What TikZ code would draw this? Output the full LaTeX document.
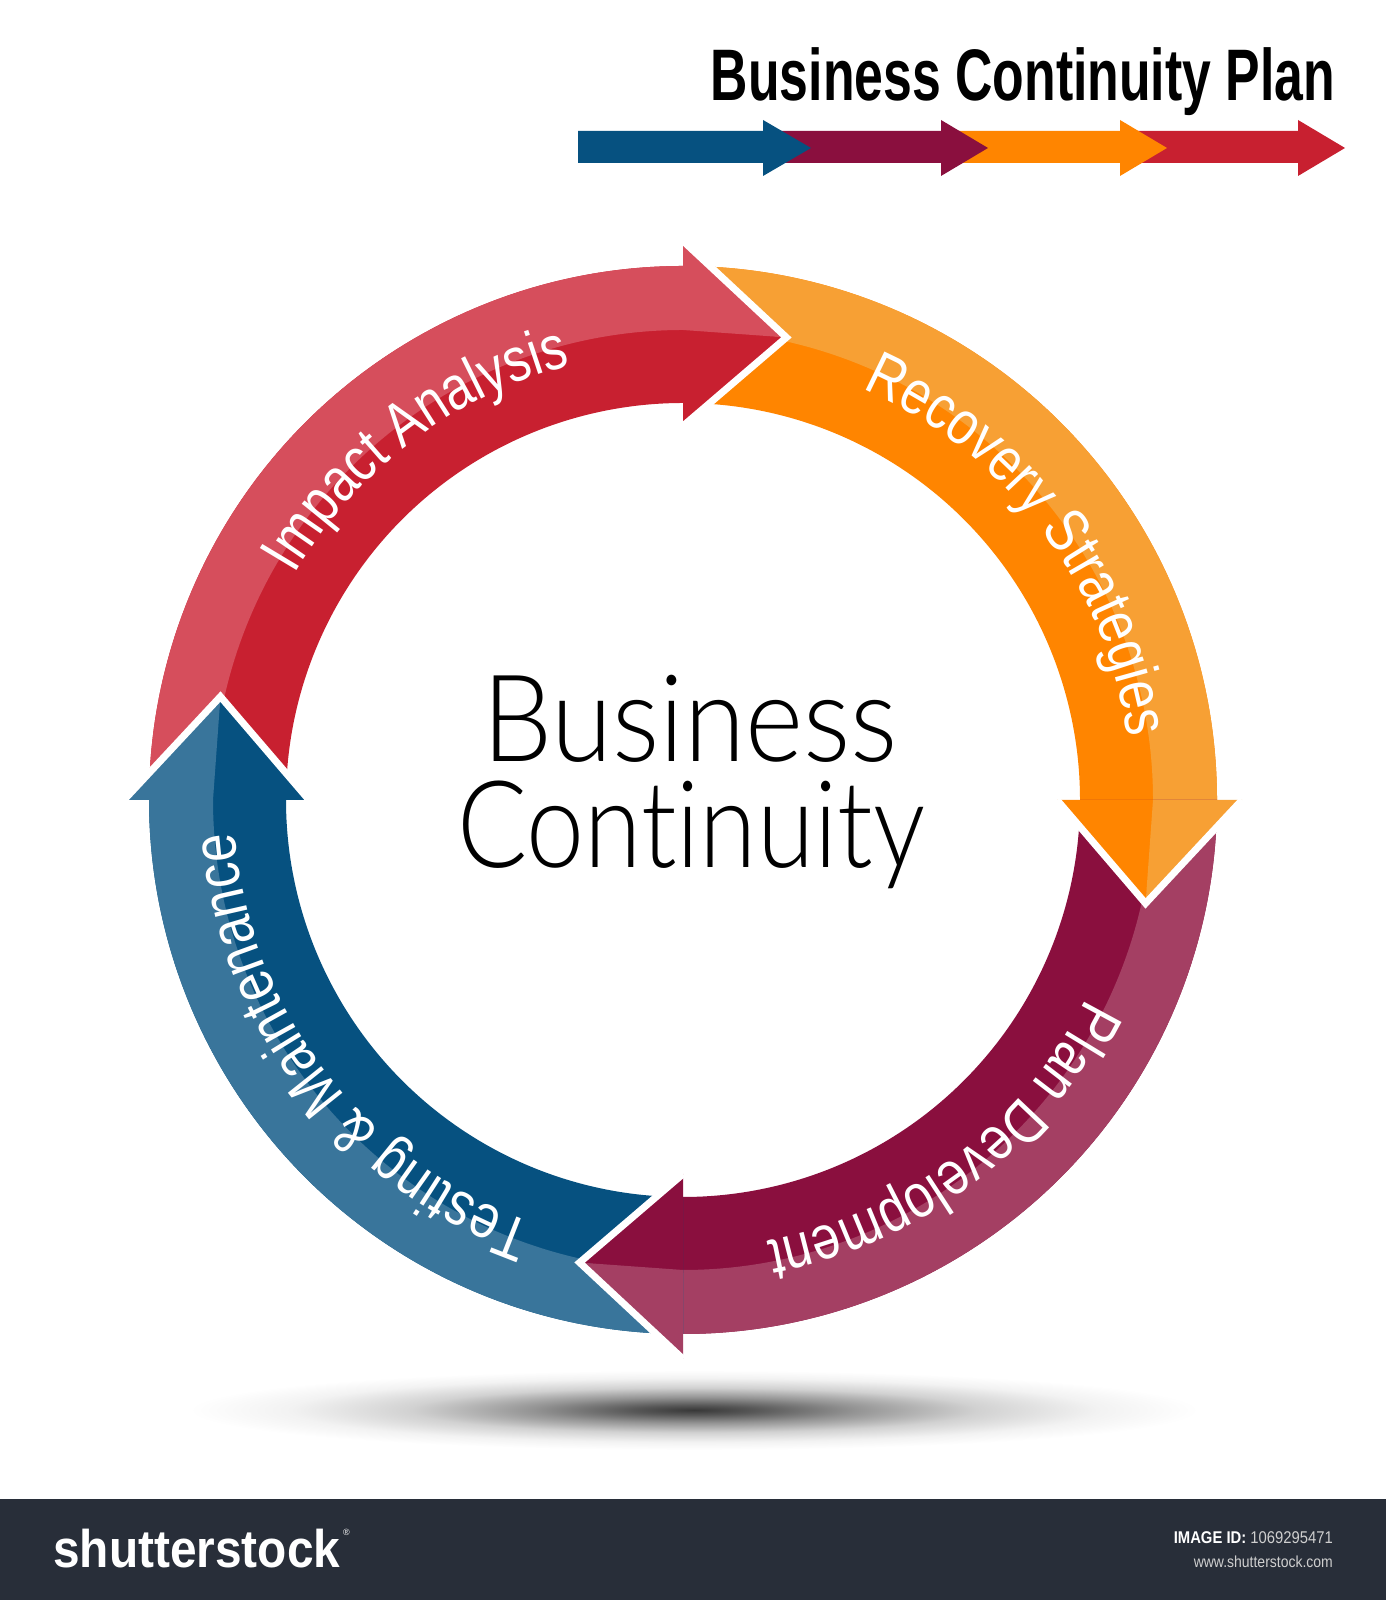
\documentclass[tikz,border=0pt]{standalone}
\usepackage{fontspec}
\usepackage{graphicx}
\setmainfont{Liberation Sans}
\newfontfamily\arcfont{Liberation Sans}[FakeStretch=0.82]
\newfontfamily\centerfont{Lato Light}[Ligatures=NoCommon]
\usetikzlibrary{decorations.text}

\definecolor{redL}{HTML}{D64E5C}
\definecolor{redD}{HTML}{C82030}
\definecolor{orgL}{HTML}{F7A034}
\definecolor{orgD}{HTML}{FF8500}
\definecolor{plmL}{HTML}{A43F63}
\definecolor{plmD}{HTML}{8A0F3E}
\definecolor{bluL}{HTML}{39759B}
\definecolor{bluD}{HTML}{065180}
\definecolor{bannerbg}{HTML}{282E39}
\definecolor{bannergrey}{HTML}{CFCFCF}

\pgfdeclareradialshading{shadowshade}{\pgfpoint{0bp}{0bp}}{color(0bp)=(black!78); color(3bp)=(black!66); color(8bp)=(black!42); color(14bp)=(black!18); color(20bp)=(black!5); color(25bp)=(white); color(50bp)=(white)}

% ring arrow body: tail angle, head angle, light, dark (runs 1 degree under the head)
\newcommand\ringbody[4]{%
  \pgfmathsetmacro\enda{#2-1}
  \fill[#4] (#1:397) arc[start angle=#1,end angle=\enda,radius=397] -- (\enda:534) arc[start angle=\enda,end angle=#1,radius=534] -- cycle;
  \fill[#3] (#1:470) arc[start angle=#1,end angle=\enda,radius=470] -- (\enda:534) arc[start angle=\enda,end angle=#1,radius=534] -- cycle;
}
% ring arrow head: head angle, light, dark
\newcommand\ringhead[3]{%
  \pgfmathsetmacro\tipa{#1-12.6}
  \fill[#3] (#1:374) -- (#1:473) -- (\tipa:474) -- cycle;
  \fill[#2] (#1:470) -- (#1:559) -- (\tipa:474) -- cycle;
  \draw[white, line width=7, line join=miter] (#1:559) -- (\tipa:474) -- (#1:374);
}

\tikzset{
  arclabel/.style={decorate, decoration={text along path, text align=center, text color=white,
      text={|\arcfont\fontsize{62pt}{62pt}\selectfont|#1}}},
  flatarrow/.style={fill=#1},
}

\begin{document}
\begin{tikzpicture}[x=1pt,y=1pt]
\useasboundingbox (0,0) rectangle (1386,1600);
\fill[white] (0,0) rectangle (1386,1600);

% shadow
\shade[shading=shadowshade] (694,190) ellipse[x radius=505, y radius=40];

% title
\node[anchor=base, inner sep=0] (title) at (1023,1499)
  {\resizebox{624pt}{\height}{\bfseries\fontsize{73pt}{73pt}\selectfont Business Continuity Plan}};

% top linear arrows (red, orange, plum, blue: later ones on top)
\fill[flatarrow=redD] (1120,1437) -- (1298,1437) -- (1298,1424) -- (1345,1452) -- (1298,1480) -- (1298,1469) -- (1120,1469) -- cycle;
\fill[flatarrow=orgD] (941,1437) -- (1120,1437) -- (1120,1424) -- (1167,1452) -- (1120,1480) -- (1120,1469) -- (941,1469) -- cycle;
\fill[flatarrow=plmD] (763,1437) -- (941,1437) -- (941,1424) -- (988,1452) -- (941,1480) -- (941,1469) -- (763,1469) -- cycle;
\fill[flatarrow=bluD] (578,1437) -- (763,1437) -- (763,1424) -- (811,1452) -- (763,1480) -- (763,1469) -- (578,1469) -- cycle;

% ring
\begin{scope}[shift={(683,800)}]
  \ringbody{180}{90}{redL}{redD}
  \ringbody{90}{0}{orgL}{orgD}
  \ringbody{0}{-90}{plmL}{plmD}
  \ringbody{-90}{-180}{bluL}{bluD}
  \ringhead{90}{redL}{redD}
  \ringhead{0}{orgL}{orgD}
  \ringhead{-90}{plmL}{plmD}
  \ringhead{-180}{bluL}{bluD}

  \path[arclabel={Impact Analysis}] (172.2:449) arc[start angle=172.2,end angle=82.2,radius=449];
  \path[arclabel={Recovery Strategies}] (82.2:449) arc[start angle=82.2,end angle=-7.8,radius=449];
  \path[arclabel={Plan Development}] (-7.75:449) arc[start angle=-7.75,end angle=-97.75,radius=449];
  \path[arclabel={Testing {\&} Maintenance}] (-97.65:449) arc[start angle=-97.65,end angle=-187.65,radius=449];
\end{scope}

% centre text
\node[anchor=base, inner sep=0] (biz) at (690,838)
  {\resizebox{416pt}{\height}{\centerfont\fontsize{121pt}{121pt}\selectfont Business}};
\node[anchor=base, inner sep=0] (cont) at (691,732)
  {\resizebox{468pt}{\height}{\centerfont\fontsize{121pt}{121pt}\selectfont Continuity}};

% banner
\fill[bannerbg] (0,0) rectangle (1386,101);
\node[anchor=base west, inner sep=0, text=white] (logo) at (53,32)
  {\resizebox{287pt}{\height}{\bfseries\fontsize{53pt}{53pt}\selectfont shutterstock}};
\node[anchor=north west, inner sep=0, text=white] (reg) at (343,71)
  {\fontsize{9pt}{9pt}\selectfont ®};
\node[anchor=base east, inner sep=0] (imgid) at (1333,56)
  {\resizebox{159pt}{\height}{\fontsize{17pt}{17pt}\selectfont\textcolor{white}{\bfseries IMAGE ID:} \textcolor{bannergrey}{1069295471}}};
\node[anchor=base east, inner sep=0, text=bannergrey] (url) at (1333,32)
  {\resizebox{139pt}{\height}{\fontsize{16pt}{16pt}\selectfont www.shutterstock.com}};
\end{tikzpicture}
\end{document}
